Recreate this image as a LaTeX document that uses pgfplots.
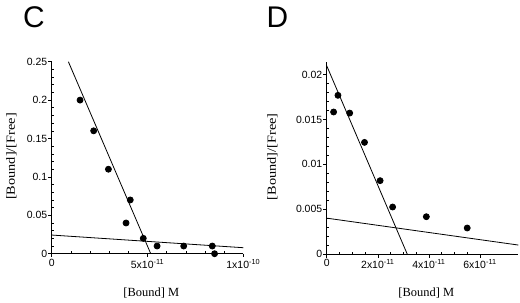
\documentclass[border=0pt]{standalone}
\usepackage{fontspec}
\setmainfont{Liberation Sans}
\newfontfamily\tnr{Liberation Serif}
\usepackage{graphicx}
\usepackage{pgfplots}
\pgfplotsset{compat=1.18}
\pgfplotsset{
  myax/.style={
    scale only axis,
    axis x line=bottom, axis y line=left,
    axis line style={-, line width=0.8bp},
    tick style={black, line width=0.6bp},
    tick align=inside,
    major tick length=-3.5bp,
    minor tick length=2.5bp,
    scaled ticks=false,
    clip=false,
    ticklabel style={font=\fontsize{10.5}{12}\selectfont},
    xticklabel style={yshift=-2bp},
    yticklabel style={xshift=-1bp},
    xlabel={\tnr\fontsize{12.5}{14}\selectfont [Bound] M},
    ylabel={\scalebox{1.15}[1]{\tnr\fontsize{12.5}{14}\selectfont [Bound]/[Free]}},
    xlabel style={anchor=center, at={(axis description cs:0.52,-0.205)}},
    every axis plot/.append style={black, line width=0.8bp},
  }
}
\begin{document}
\begin{tikzpicture}[x=1bp,y=1bp]
\path[use as bounding box] (0,0) rectangle (520,302);
\node[font=\fontsize{30}{30}\selectfont] at (34,285) {C};
\node[font=\fontsize{30}{30}\selectfont] at (277.5,285) {D};
\begin{axis}[myax,
  at={(51.7bp,48.3bp)}, anchor=south west,
  width=191.6bp, height=192bp,
  xmin=0, xmax=1e-10, ymin=0, ymax=0.25,
  xtick={0,5e-11,1e-10},
  xticklabels={0,5x10\textsuperscript{-11},1x10\textsuperscript{-10}},
  minor x tick num=4,
  ytick={0,0.05,0.1,0.15,0.2,0.25},
  yticklabels={0,0.05,0.1,0.15,0.2,0.25},
  minor y tick num=4,
  ylabel style={anchor=center, at={(axis description cs:-0.21,0.506)}},
]
\addplot[only marks, mark=*, mark size=3bp] coordinates {
  (1.48e-11,0.2) (2.19e-11,0.16) (2.96e-11,0.11) (4.1e-11,0.07)
  (3.88e-11,0.04) (4.78e-11,0.02) (5.5e-11,0.01) (6.89e-11,0.01)
  (8.38e-11,0.01) (8.5e-11,0)
};
\addplot[no marks] coordinates {(0.87e-11,0.25) (5.17e-11,0)};
\addplot[no marks] coordinates {(0,0.0243) (1e-10,0.0078)};
\end{axis}
\begin{axis}[myax,
  at={(326.7bp,48bp)}, anchor=south west,
  width=191.6bp, height=192.3bp,
  xmin=0, xmax=7.5e-11, ymin=0, ymax=0.02145,
  xtick={0,2e-11,4e-11,6e-11},
  xticklabels={0,2x10\textsuperscript{-11},4x10\textsuperscript{-11},6x10\textsuperscript{-11}},
  minor x tick num=3,
  ytick={0,0.005,0.01,0.015,0.02},
  yticklabels={0,0.005,0.01,0.015,0.02},
  minor y tick num=4,
  ylabel style={anchor=center, at={(axis description cs:-0.283,0.506)}},
]
\addplot[only marks, mark=*, mark size=3bp] coordinates {
  (0.27e-11,0.01584) (0.44e-11,0.0177) (0.9e-11,0.01572) (1.48e-11,0.01245)
  (2.09e-11,0.00818) (2.58e-11,0.00524) (3.9e-11,0.00416) (5.5e-11,0.0029)
};
\addplot[no marks] coordinates {(0,0.021) (3.15e-11,0)};
\addplot[no marks] coordinates {(0,0.004) (7.5e-11,0.001)};
\end{axis}
\end{tikzpicture}
\end{document}
